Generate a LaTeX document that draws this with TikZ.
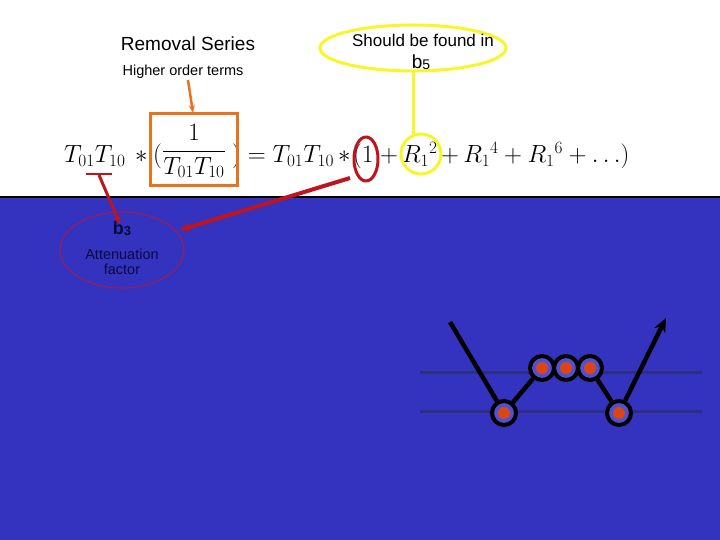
\documentclass[tikz,border=0pt]{standalone}
\usepackage{fontspec}
\setsansfont{Liberation Sans}
\usetikzlibrary{arrows.meta}
\definecolor{bg}{RGB}{51,51,192}
\definecolor{beadc}{RGB}{80,80,210}
\definecolor{dotc}{RGB}{220,70,20}
\definecolor{orng}{RGB}{230,115,30}
\definecolor{yel}{RGB}{250,245,40}
\definecolor{redc}{RGB}{190,20,30}
\definecolor{purp}{RGB}{150,30,90}
\definecolor{navy}{RGB}{10,10,60}
\definecolor{layer}{RGB}{45,45,130}
\begin{document}
\begin{tikzpicture}[x=1pt,y=-1pt,
  eq/.style={inner sep=0pt,anchor=base west,font=\fontsize{27}{29}\selectfont},
  sf/.style={inner sep=0pt},
  bead/.style={circle,draw=black,line width=4pt,fill=beadc,minimum size=24pt,inner sep=0pt},
  dot/.style={circle,fill=dotc,minimum size=12pt,inner sep=0pt}]
\useasboundingbox (0,0) rectangle (720,540);
\fill[white] (0,0) rectangle (720,197);
\fill[bg] (0,197) rectangle (720,540);
\draw[black,line width=1.5pt] (0,197) -- (720,197);
% texts
\node[sf,font=\sffamily\fontsize{19}{21}\selectfont] (rs) at (188,44) {Removal Series};
\node[sf,font=\sffamily\fontsize{14.5}{16}\selectfont] (ho) at (183,72) {Higher order terms};
\draw[yel,line width=3pt] (413,48) ellipse (93 and 23);
\node[sf,font=\sffamily\fontsize{17}{19}\selectfont] (sf1) at (423,40) {Should be found in};
\node[sf,font=\sffamily\fontsize{19}{20}\selectfont] (b5) at (421,62) {b\raisebox{-1pt}{\fontsize{14}{15}\selectfont 5}};
% equation
\node[eq] (e1) at (64,163) {$T_{01}T_{10}\,*($};
\node[eq,anchor=center] (e2) at (194,151) {$\displaystyle\frac{1}{T_{01}T_{10}}$};
\node[eq] (e3) at (232,163) {$)=T_{01}T_{10}\,*$};
\node[eq] (e4) at (353,163) {$(1$};
\node[eq] (e5) at (380,163) {$+$};
\node[eq] (e6) at (402,163) {$R_1{}^{2}$};
\node[eq] (e7) at (441,163) {$+\,R_1{}^{4}+R_1{}^{6}+\ldots)$};
% highlights
\draw[orng,line width=3pt] (150,114) rectangle (237,186);
\draw[orng,line width=2.5pt,-{Stealth[length=8pt,width=6pt]}] (188,80) -- (193,113);
\draw[yel,line width=3pt] (421,154) ellipse (20 and 20);
\draw[yel,line width=3pt] (413,72) -- (413,134);
\draw[redc,line width=3pt] (366,159) ellipse (12 and 22);
\draw[redc,line width=4pt,-{Stealth[length=10pt,width=9pt]}] (350,178) -- (180,230);
\draw[redc,line width=1.2pt] (86,174) -- (112,174);
\draw[redc,line width=3pt,-{Stealth[length=8pt,width=7pt]}] (99,175) -- (120,224);
\draw[purp,line width=1.2pt] (122,250) ellipse (62 and 38);
\node[sf,font=\sffamily\bfseries\fontsize{18}{19}\selectfont,text=navy] (b3) at (122,229) {b\raisebox{-1pt}{\fontsize{13}{14}\selectfont 3}};
\node[sf,align=center,font=\sffamily\fontsize{14.5}{15}\selectfont,text=navy] (af) at (122,262) {Attenuation\\factor};
% layers
\draw[layer,line width=3pt] (420,372) -- (702,372);
\draw[layer,line width=3pt] (420,411) -- (702,411);
% ray
\coordinate (s) at (450,322);
\coordinate (t) at (666,318);
\node[bead] (p1) at (504,413) {}; \node[dot] at (p1) {};
\node[bead] (p2) at (542,368) {}; \node[dot] at (p2) {};
\node[bead] (p3) at (566,368) {}; \node[dot] at (p3) {};
\node[bead] (p4) at (590,368) {}; \node[dot] at (p4) {};
\node[bead] (p5) at (619,413) {}; \node[dot] at (p5) {};
\draw[black,line width=4.5pt] (s) -- (p1) (p1) -- (p2) (p4) -- (p5);
\draw[black,line width=4.5pt,-{Stealth[length=14pt,width=12pt]}] (p5) -- (t);
\end{tikzpicture}
\end{document}
